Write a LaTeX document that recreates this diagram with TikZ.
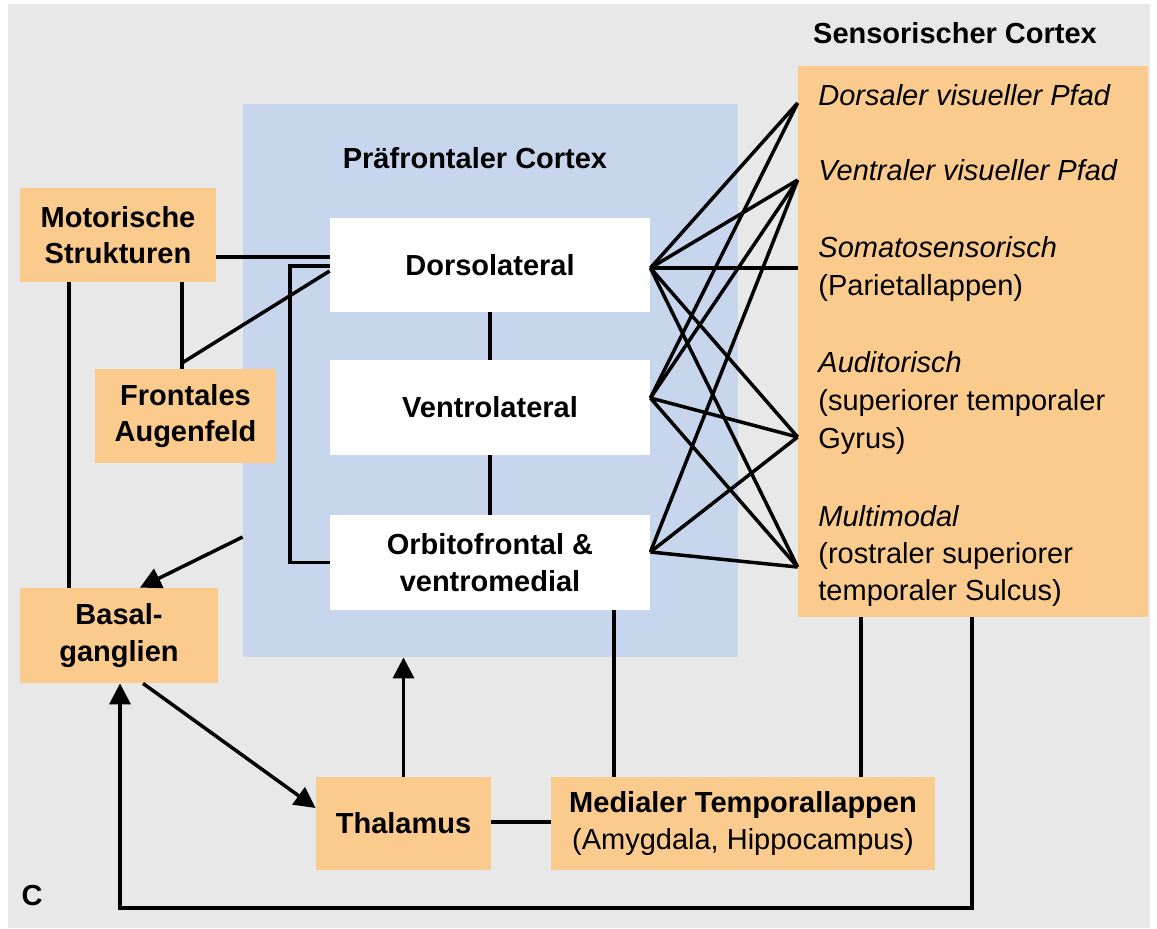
\documentclass[tikz,border=0pt]{standalone}
\usepackage{fontspec}
\setmainfont{Liberation Sans}
\usetikzlibrary{arrows.meta}
\definecolor{bggray}{RGB}{232,232,232}
\definecolor{pfcblue}{RGB}{199,214,236}
\definecolor{boxorange}{RGB}{250,203,140}
\begin{document}
\begin{tikzpicture}[x=0.5pt,y=-0.5pt,
  font=\fontsize{14.5}{18.2}\selectfont,
  obox/.style={fill=boxorange, draw=none, inner sep=0pt, align=center, font=\fontsize{14.5}{18.2}\selectfont\bfseries},
  wbox/.style={fill=white, draw=none, inner sep=0pt, align=center, font=\fontsize{14.5}{18.2}\selectfont\bfseries},
  conn/.style={draw=black, line width=1.75pt},
  arr/.style={conn, -{Triangle[length=10.5pt,width=10.5pt]}},
  senstext/.style={anchor=base west, inner sep=0pt}]
\useasboundingbox (0,0) rectangle (1157,928);
\fill[bggray] (8,4) rectangle (1150,928);

% prefrontal cortex area
\node[fill=pfcblue, inner sep=0pt, minimum width=247.5pt, minimum height=276.5pt] (pfc) at (490.5,380.5) {};
\node[font=\fontsize{14.5}{18.2}\selectfont\bfseries, anchor=base] (pfct) at (475,168) {Präfrontaler Cortex};

\node[wbox, minimum width=160pt, minimum height=47pt] (dl) at (490,265) {Dorsolateral};
\node[wbox, minimum width=160pt, minimum height=47.5pt] (vl) at (490,407.5) {Ventrolateral};
\node[wbox, minimum width=160pt, minimum height=47.5pt] (of) at (490,562.5) {Orbitofrontal \&\\ventromedial};

% orange boxes
\node[obox, minimum width=98pt, minimum height=47pt] (mot) at (118,235) {Motorische\\Strukturen};
\node[obox, minimum width=90.5pt, minimum height=47pt] (fef) at (185.5,416) {Frontales\\Augenfeld};
\node[obox, minimum width=99pt, minimum height=47.5pt] (bas) at (119,635.5) {Basal-\\ganglien};
\node[obox, minimum width=87.5pt, minimum height=46.5pt] (thal) at (403.5,823.5) {Thalamus};
\node[obox, minimum width=192pt, minimum height=46.5pt] (mtl) at (743,823.5) {Medialer Temporallappen\\\mdseries(Amygdala, Hippocampus)};

% sensory cortex
\node[font=\fontsize{14.5}{18.2}\selectfont\bfseries, anchor=base] (senst) at (955,43) {Sensorischer Cortex};
\node[fill=boxorange, inner sep=0pt, minimum width=175pt, minimum height=275.5pt] (sens) at (973,341.5) {};
\node[senstext, font=\fontsize{14.5}{18.2}\selectfont\itshape] (s1) at (818,105) {Dorsaler visueller Pfad};
\node[senstext, font=\fontsize{14.5}{18.2}\selectfont\itshape] (s2) at (818,180) {Ventraler visueller Pfad};
\node[senstext, font=\fontsize{14.5}{18.2}\selectfont\itshape] (s3) at (818,257) {Somatosensorisch};
\node[senstext] (s3b) at (818,295) {(Parietallappen)};
\node[senstext, font=\fontsize{14.5}{18.2}\selectfont\itshape] (s4) at (818,372) {Auditorisch};
\node[senstext] (s4b) at (818,410) {(superiorer temporaler};
\node[senstext] (s4c) at (818,448) {Gyrus)};
\node[senstext, font=\fontsize{14.5}{18.2}\selectfont\itshape] (s5) at (818,526) {Multimodal};
\node[senstext] (s5b) at (818,563) {(rostraler superiorer};
\node[senstext] (s5c) at (818,600) {temporaler Sulcus)};

\node[font=\fontsize{14.5}{18.2}\selectfont\bfseries, anchor=base] (clabel) at (32,905) {C};

% connector points
\coordinate (dlA) at (dl.west |- 0,257);
\coordinate (dlB) at (dl.west |- 0,266);
\coordinate (dlC) at (dl.west |- 0,271);
\coordinate (brk) at (290,400);
\coordinate (jx) at (182,363);
\coordinate (lx) at (69,450);
\coordinate (lb) at (120,908);

\coordinate (sD) at (dl.east |- 0,268);
\coordinate (sV) at (vl.east |- 0,398);
\coordinate (sO) at (of.east |- 0,552);
\coordinate (t1) at (sens.west |- 0,103);
\coordinate (t2) at (sens.west |- 0,180);
\coordinate (t3) at (sens.west |- 0,268);
\coordinate (t4) at (sens.west |- 0,437);
\coordinate (t5) at (sens.west |- 0,567);

% left connectors
\draw[conn] (mot.east |- dlA) -- (dlA);
\draw[conn] (dlB) -- (dlB -| brk) -- (of.west -| brk) -- (of.west);
\draw[conn] (mot.south -| jx) -- (fef.north -| jx);
\draw[conn] (jx) -- (dlC);
\draw[conn] (mot.south -| lx) -- (bas.north -| lx);
\draw[arr] (pfc.west |- 0,537) -- (bas.north -| 140,0);
\draw[arr] (bas.south -| 143,0) -- (thal.west |- 0,808);
\draw[arr] (thal.north) -- (pfc.south -| thal.north);
\draw[conn] (thal.east |- 0,822) -- (mtl.west |- 0,822);
\draw[conn] (of.south -| 614,0) -- (mtl.north -| 614,0);
\draw[conn] (sens.south -| 861,0) -- (mtl.north -| 861,0);
\draw[arr] (sens.south -| 972,0) |- (lb) -- (bas.south -| lb);

% PFC vertical links
\draw[conn] (dl.south) -- (vl.north);
\draw[conn] (vl.south) -- (of.north);

% PFC to sensory cortex
\foreach \t in {t1,t2,t3,t4,t5} \draw[conn] (sD) -- (\t);
\foreach \t in {t1,t2,t4,t5} \draw[conn] (sV) -- (\t);
\foreach \t in {t2,t4,t5} \draw[conn] (sO) -- (\t);
\end{tikzpicture}
\end{document}
